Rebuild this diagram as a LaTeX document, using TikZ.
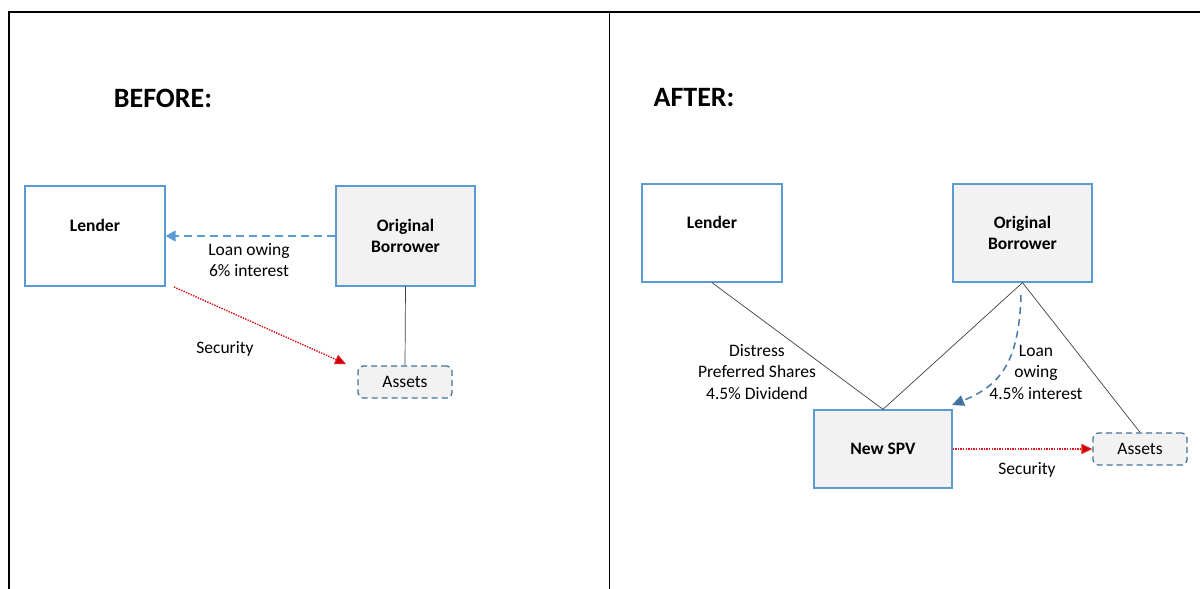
\documentclass[tikz,border=0pt]{standalone}
\usepackage{fontspec}
\setmainfont{Carlito}
\usetikzlibrary{arrows.meta}
\definecolor{boxblue}{RGB}{91,155,213}
\definecolor{darkblue}{RGB}{65,113,156}
\definecolor{lgray}{RGB}{242,242,242}
\definecolor{dred}{RGB}{200,0,0}
\definecolor{dotred}{RGB}{225,20,30}
\definecolor{linegray}{RGB}{64,64,64}
\begin{document}
\begin{tikzpicture}[x=1pt,y=-1pt,
  box/.style={draw=boxblue, line width=1.3pt, align=center, inner sep=0pt,
    font=\bfseries\fontsize{17.5}{21.5}\selectfont},
  graybox/.style={box, fill=lgray},
  assetbox/.style={draw=darkblue, fill=lgray, line width=1.3pt, dashed,
    dash pattern=on 6pt off 4pt, rounded corners=5pt, inner sep=0pt,
    minimum width=94pt, minimum height=32pt,
    font=\fontsize{17.5}{21.5}\selectfont},
  lbl/.style={align=center, inner sep=0pt, font=\fontsize{17.5}{21.5}\selectfont},
  ttl/.style={inner sep=0pt, font=\bfseries\fontsize{28}{32}\selectfont},
  link/.style={draw=linegray, line width=0.7pt},
  loan/.style={draw=boxblue, line width=1.5pt, dash pattern=on 8pt off 5pt,
    -{Triangle[width=11pt,length=10pt]}},
  loan2/.style={draw=darkblue!80!boxblue, line width=1.5pt, dash pattern=on 7pt off 5pt,
    -{Triangle[width=11pt,length=12pt,fill=darkblue]}},
  sec/.style={draw=dotred, line width=1.4pt, dash pattern=on 1.4pt off 1.2pt,
    -{Triangle[width=10pt,length=11pt,fill=dred]}}
]
\useasboundingbox (0,0) rectangle (1200,589);
% frame
\draw[line width=1.5pt] (9,589) -- (9,12) -- (1200,12);
\draw[line width=0.6pt] (609,12) -- (609,589);

% BEFORE
\node[ttl] (tb) at (163,98) {BEFORE:};
\node[box, minimum width=140pt, minimum height=100pt] (bl) at (95,236) {Lender\\\mbox{}};
\node[graybox, minimum width=139pt, minimum height=100pt] (bb) at (405.5,236) {Original\\Borrower};
\node[assetbox] (ba) at (405,382) {Assets};
\draw[loan] (bb.west) -- (bl.east);
\node[lbl] (bloan) at (249,260) {Loan owing\\6\% interest};
\draw[link] (bb.south) -- (ba.north);
\coordinate (bs1) at (174,287);
\coordinate (bs2) at (346,364);
\draw[sec] (bs1) -- (bs2);
\node[lbl] (bsec) at (225,349) {Security};

% AFTER
\node[ttl] (ta) at (694,98) {AFTER:};
\node[box, minimum width=140pt, minimum height=98pt] (al) at (712,233) {Lender\\\mbox{}};
\node[graybox, minimum width=139pt, minimum height=98pt] (ab) at (1022.5,233) {Original\\Borrower};
\node[graybox, minimum width=138pt, minimum height=78pt] (spv) at (883,449) {New SPV};
\node[assetbox] (aa) at (1140,449) {Assets};
\draw[link] (al.south) -- (spv.north);
\draw[link] (ab.south) -- (spv.north);
\draw[link] (ab.south) -- (aa.north);
\coordinate (c1) at (1021,295);
\coordinate (c2) at (952,405);
\draw[loan2] (c1) .. controls (1019,360) and (1002,385) .. (c2);
\node[lbl] (aloan) at (1036,372) {Loan\\owing\\4.5\% interest};
\node[lbl] (adist) at (757,372) {Distress\\Preferred Shares\\4.5\% Dividend};
\draw[sec] (spv.east) -- (aa.west);
\node[lbl] (asec) at (1027,470) {Security};
\end{tikzpicture}
\end{document}
